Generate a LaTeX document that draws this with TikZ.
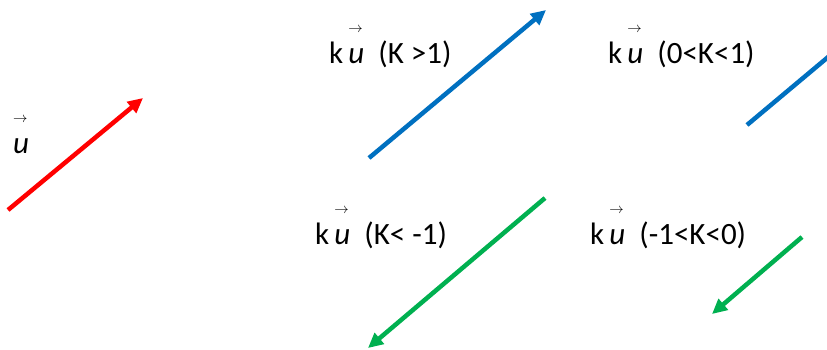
\documentclass[tikz,border=0pt]{standalone}
\usepackage{fontspec}
\setmainfont{Carlito}
\usetikzlibrary{arrows.meta}

\definecolor{vred}{RGB}{255,0,0}
\definecolor{vblue}{RGB}{0,112,192}
\definecolor{vgreen}{RGB}{0,176,80}

% u with a small arrow high above it
\newcommand{\uvec}{\makebox[0pt][l]{\hspace{0pt}\raisebox{31pt}{\fontsize{15}{15}\selectfont$\rightarrow$}}\textit{u}}

\tikzset{
  vec/.style={line width=4.5pt, -{Triangle[length=15pt,width=14pt]}},
  lbl/.style={anchor=base west, inner sep=0pt, font=\fontsize{31}{31}\selectfont}
}

\begin{document}
\begin{tikzpicture}[x=1pt, y=-1pt]

        \useasboundingbox (0,0) rectangle (827,349);

        % Vector u
        \coordinate (u0) at (8,210);
        \coordinate (u1) at (143,98);
        \draw[vec, vred] (u0) -- (u1);
        \node[lbl] (lu) at (13,153) {\uvec};

        % k u, K > 1
        \coordinate (a0) at (369,158);
        \coordinate (a1) at (546,10);
        \draw[vec, vblue] (a0) -- (a1);
        \node[lbl] (la) at (329,63) {k\,\uvec\ \ (K >1)};

        % k u, 0 < K < 1
        \coordinate (b0) at (747,125);
        \coordinate (b1) at (852,37);
        \draw[vec, vblue] (b0) -- (b1);
        \node[lbl] (lb) at (608,63) {k\,\uvec\ \ (0<K<1)};

        % k u, K < -1
        \coordinate (c0) at (545,198);
        \coordinate (c1) at (368,348);
        \draw[vec, vgreen] (c0) -- (c1);
        \node[lbl] (lc) at (315,244) {k\,\uvec\ \ (K< -1)};

        % k u, -1 < K < 0
        \coordinate (d0) at (802,237);
        \coordinate (d1) at (712,314);
        \draw[vec, vgreen] (d0) -- (d1);
        \node[lbl] (ld) at (590,244) {k\,\uvec\ \ (-1<K<0)};

    \end{tikzpicture}
\end{document}
